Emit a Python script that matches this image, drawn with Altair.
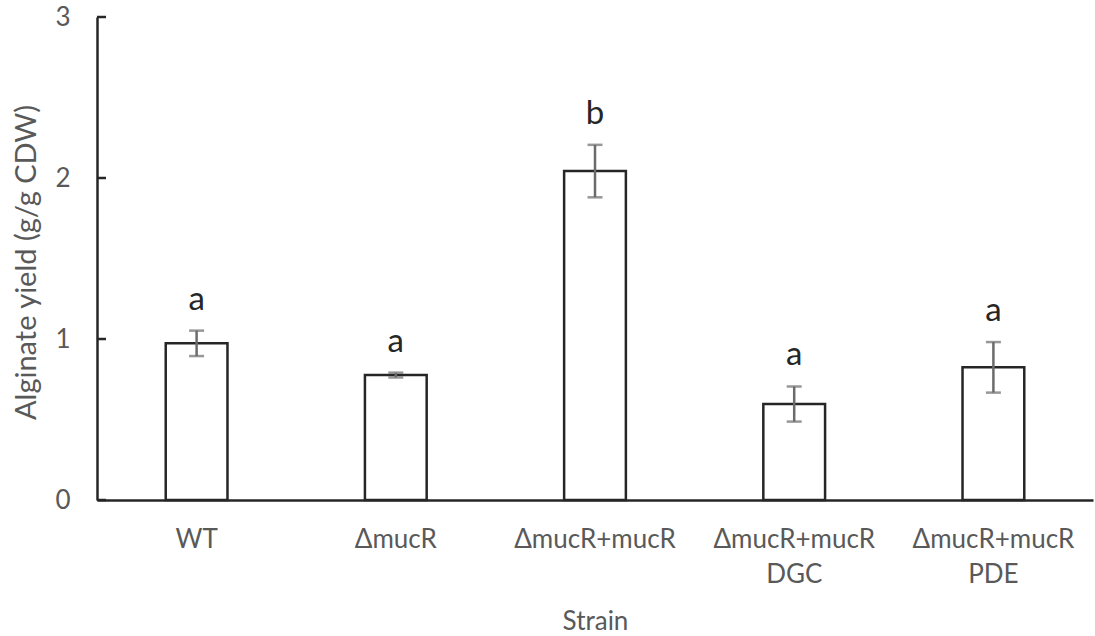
import altair as alt
import pandas as pd

# Alginate yield per strain (mean ± error), with significance groups
strains = ["WT", "ΔmucR", "ΔmucR+mucR", "ΔmucR+mucR\nDGC", "ΔmucR+mucR\nPDE"]
yield_mean = [0.973, 0.776, 2.043, 0.596, 0.824]
yield_err = [0.079, 0.015, 0.163, 0.109, 0.157]
groups = ["a", "a", "b", "a", "a"]
y_ticks = [0, 1, 2, 3]

df = pd.DataFrame({"strain": strains, "mean": yield_mean, "err": yield_err, "group": groups})
df["lo"] = df["mean"] - df["err"]
df["hi"] = df["mean"] + df["err"]
ticks_df = pd.DataFrame({"v": y_ticks})

FONT = "Lato"
GREY = "#595959"
INK = "#262626"
ERR = "#6b6b6b"

x_enc = alt.X(
    "strain:N",
    sort=strains,
    title="Strain",
    scale=alt.Scale(paddingInner=0.69, paddingOuter=0.345),
    axis=alt.Axis(
        labelAngle=0,
        labelExpr="split(datum.label, '\\n')",
        labelFont=FONT, labelFontSize=26, labelColor=GREY,
        labelPadding=26, labelLineHeight=35,
        ticks=False, domainColor=INK, domainWidth=2.5,
        titleFont=FONT, titleFontSize=26, titleColor=GREY, titleFontWeight="normal",
        titleX=498, titleY=129, titleBaseline="alphabetic",
    ),
)

y_scale = alt.Scale(domain=[0, 3], nice=False)
y_enc = alt.Y(
    "mean:Q",
    scale=y_scale,
    title="Alginate yield (g/g CDW)",
    axis=alt.Axis(
        values=y_ticks, format="d", grid=False, ticks=False,
        labelFont=FONT, labelFontSize=26, labelColor=GREY, labelPadding=27,
        domainColor=INK, domainWidth=2.5,
        titleFont=FONT, titleFontSize=29, titleColor=GREY, titleFontWeight="normal",
        titleAngle=270, titleX=-71, titleY=245,
        titleAlign="center", titleBaseline="middle",
    ),
)

base = alt.Chart(df)

bars = base.mark_bar(fill="white", stroke=INK, strokeWidth=2.5).encode(x=x_enc, y=y_enc)

err_rule = base.mark_rule(color=ERR, strokeWidth=2.5).encode(
    x=alt.X("strain:N", sort=strains),
    y=alt.Y("lo:Q", scale=y_scale),
    y2="hi:Q",
)

cap_lo = base.mark_tick(color=ERR, orient="horizontal", size=15, thickness=2.5).encode(
    x=alt.X("strain:N", sort=strains),
    y=alt.Y("lo:Q", scale=y_scale),
)
cap_hi = base.mark_tick(color=ERR, orient="horizontal", size=15, thickness=2.5).encode(
    x=alt.X("strain:N", sort=strains),
    y=alt.Y("hi:Q", scale=y_scale),
)

letters = base.mark_text(
    font=FONT, fontSize=33, color=INK, baseline="alphabetic", dy=-21
).encode(
    x=alt.X("strain:N", sort=strains),
    y=alt.Y("hi:Q", scale=y_scale),
    text="group:N",
)

# inward-pointing tick marks on the value axis
inner_ticks = alt.Chart(ticks_df).mark_rule(color=INK, strokeWidth=2.5).encode(
    y=alt.Y("v:Q", scale=y_scale),
    x=alt.value(0),
    x2=alt.value(9),
)

chart = (
    alt.layer(bars, err_rule, cap_lo, cap_hi, letters, inner_ticks)
    .properties(
        width=996,
        height=483,
        autosize=alt.AutoSizeParams(type="none"),
        padding={"left": 97, "top": 17, "right": 2, "bottom": 136},
        background="white",
    )
    .configure_view(stroke=None)
)

chart.save("out.html", embed_options={"renderer": "svg", "actions": False})
